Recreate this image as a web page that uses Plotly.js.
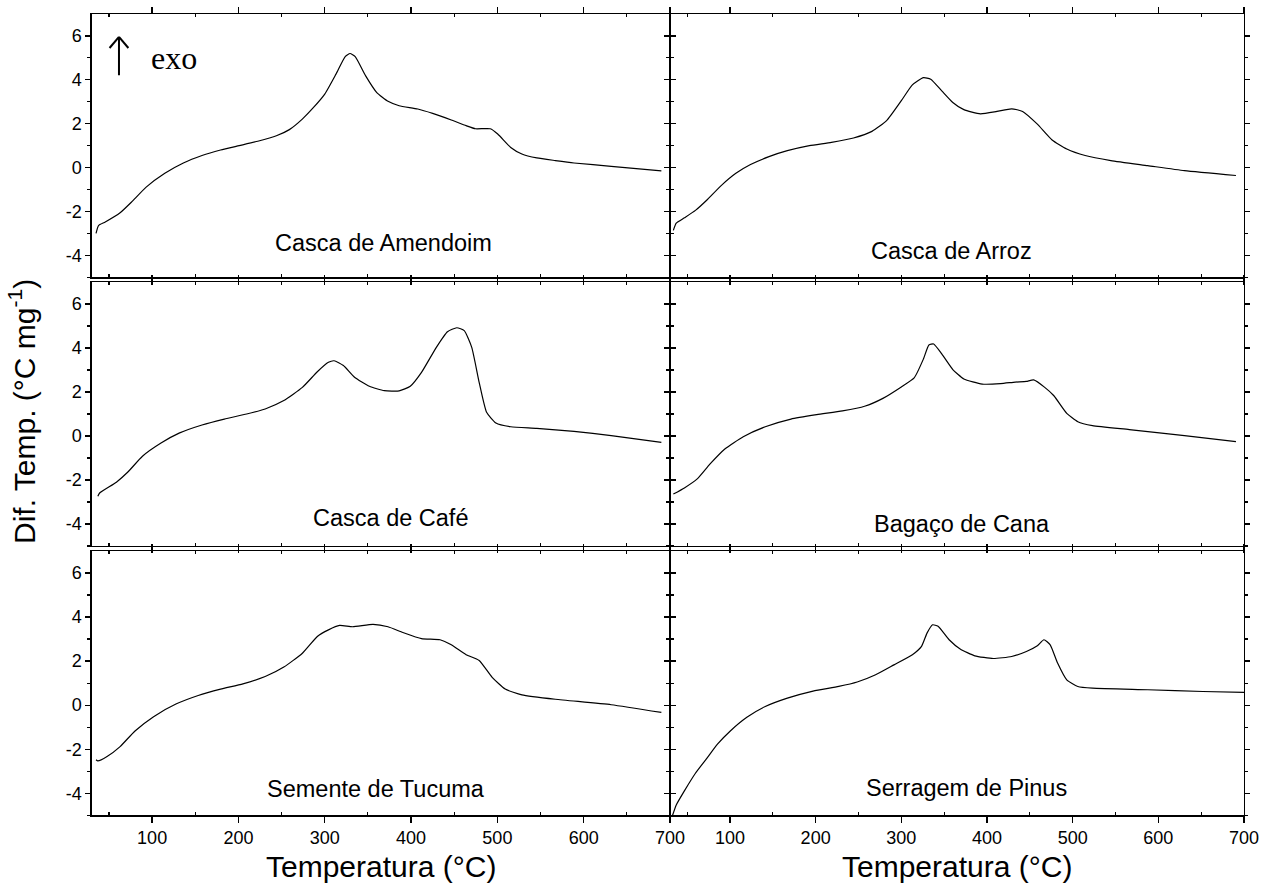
<!DOCTYPE html>
<html>
<head>
<meta charset="utf-8">
<script src="https://cdn.plot.ly/plotly-3.0.1.min.js"></script>
<style>html,body{margin:0;padding:0;background:#fff}#chart{width:1264px;height:884px}</style>
</head>
<body>
<div id="chart"></div>
<script>
// ---- data ----
var sampleNames = ["Casca de Amendoim", "Casca de Arroz", "Casca de Café", "Bagaço de Cana", "Semente de Tucuma", "Serragem de Pinus"];
var xTickVals = [100, 200, 300, 400, 500, 600, 700];
var yTickVals = [-4, -2, 0, 2, 4, 6];

var xAmendoim = [35, 37.9, 45.7, 62.9, 75.9, 93.1, 114.7, 136.2, 157.8, 179.3, 200.9, 222.4, 244, 259, 274, 287, 300, 313, 323.7, 329.3, 335.3, 347.4, 360.3, 373.3, 386.2, 407.8, 425, 446.6, 463.8, 474.6, 491.8, 500.4, 515.5, 528.4, 545.7, 567.2, 588.8, 631.9, 690];
var yAmendoim = [-3.0, -2.64, -2.48, -2.06, -1.58, -0.89, -0.26, 0.21, 0.55, 0.80, 1.0, 1.20, 1.45, 1.73, 2.21, 2.74, 3.35, 4.26, 5.06, 5.2, 5.06, 4.18, 3.42, 3.02, 2.82, 2.67, 2.47, 2.17, 1.91, 1.77, 1.77, 1.53, 0.92, 0.62, 0.44, 0.32, 0.21, 0.06, -0.15];

var xArroz = [33.9, 37.3, 46.8, 59.7, 72.5, 89.7, 106.9, 124, 145.5, 167, 192.7, 218.5, 244.2, 265.7, 282.8, 300, 312.9, 325.8, 334.3, 347.2, 360.1, 373, 392.3, 411.6, 428.8, 441.6, 458.8, 476, 493.1, 514.6, 544.6, 587.6, 630.5, 690.6];
var yArroz = [-2.86, -2.53, -2.29, -1.95, -1.5, -0.82, -0.26, 0.14, 0.5, 0.77, 1.0, 1.15, 1.35, 1.65, 2.14, 3.05, 3.77, 4.1, 4.03, 3.5, 2.97, 2.64, 2.45, 2.56, 2.68, 2.56, 1.98, 1.26, 0.85, 0.55, 0.32, 0.09, -0.14, -0.36];

var xCafe = [37.1, 39.2, 58.6, 71.6, 88.8, 110.3, 131.9, 157.8, 183.6, 209.5, 231, 252.6, 274.1, 291.4, 304.3, 310.8, 321.6, 334.5, 351.7, 369, 386.2, 399.1, 412.1, 429.3, 442.2, 453, 461.6, 470.3, 478.9, 487.5, 498.3, 515.5, 545.7, 588.8, 631.9, 690];
var yCafe = [-2.74, -2.59, -2.1, -1.65, -0.92, -0.32, 0.14, 0.5, 0.77, 1.0, 1.23, 1.61, 2.21, 2.92, 3.35, 3.42, 3.2, 2.67, 2.26, 2.06, 2.05, 2.26, 2.89, 4.03, 4.74, 4.92, 4.79, 4.03, 2.44, 1.08, 0.59, 0.42, 0.35, 0.21, 0.02, -0.29];

var xBagaco = [33.9, 46.8, 61.8, 76.8, 94, 115.5, 141.2, 171.2, 201.3, 231.3, 257.1, 278.5, 300, 315, 325.8, 332.2, 337.8, 347.2, 360.1, 373, 394.4, 415.9, 433, 445.9, 454.5, 467.4, 478.1, 493.1, 506, 523.2, 566.1, 630.5, 690.6];
var yBagaco = [-2.64, -2.36, -1.95, -1.27, -0.59, -0.03, 0.42, 0.77, 0.97, 1.14, 1.35, 1.71, 2.23, 2.64, 3.5, 4.14, 4.18, 3.73, 3.02, 2.59, 2.36, 2.38, 2.45, 2.48, 2.55, 2.21, 1.83, 1.03, 0.65, 0.47, 0.29, 0.02, -0.26];

var xTucuma = [35, 37.1, 47.8, 62.9, 80.2, 101.7, 127.6, 153.4, 179.3, 205.2, 231, 252.6, 274.1, 291.4, 304.3, 317.2, 332.3, 356, 373.3, 390.5, 412.1, 433.6, 446.6, 463.8, 478.9, 494, 509.1, 528.4, 567.2, 631.9, 690];
var yTucuma = [-2.48, -2.53, -2.33, -1.88, -1.17, -0.52, 0.05, 0.44, 0.73, 0.97, 1.3, 1.73, 2.36, 3.12, 3.42, 3.62, 3.56, 3.67, 3.56, 3.3, 3.02, 2.97, 2.74, 2.29, 2.03, 1.26, 0.73, 0.47, 0.27, 0.02, -0.33];

var xPinus = [33, 37.3, 46.8, 59.7, 72.5, 85.4, 100.4, 119.7, 141.2, 167, 197, 227, 248.5, 270, 291.4, 312.9, 323.6, 330, 336.5, 342.9, 355.8, 368.7, 385.8, 407.3, 428.8, 446, 458.8, 466.5, 473.8, 482.4, 493.1, 506, 523.2, 587.6, 652, 700];
var yPinus = [-5.0, -4.53, -3.89, -3.09, -2.44, -1.77, -1.17, -0.55, -0.06, 0.32, 0.64, 0.85, 1.05, 1.38, 1.83, 2.29, 2.67, 3.27, 3.65, 3.58, 2.97, 2.55, 2.24, 2.12, 2.21, 2.44, 2.7, 2.97, 2.74, 1.91, 1.15, 0.85, 0.77, 0.7, 0.62, 0.58];

var seriesX = [xAmendoim, xArroz, xCafe, xBagaco, xTucuma, xPinus];
var seriesY = [yAmendoim, yArroz, yCafe, yBagaco, yTucuma, yPinus];
var labelX = [368, 359, 376, 371, 359, 376];
var labelY = [-3.42, -3.79, -3.74, -4.02, -3.82, -3.77];

// ---- layout geometry ----
var W = 1264, H = 884;
var colDom = [[91.7 / W, 670 / W], [670 / W, 1244 / W]];
var rowDom = [[1 - 277.3 / H, 1 - 14 / H], [1 - 546 / H, 1 - 282 / H], [1 - 815.3 / H, 1 - 551 / H]];
var FONT = 'Liberation Sans, Arial, sans-serif';

var traces = [];
var layout = {
  width: W, height: H,
  margin: {l: 0, r: 0, t: 0, b: 0},
  paper_bgcolor: '#fff', plot_bgcolor: '#fff',
  showlegend: false,
  font: {family: FONT, color: '#000', size: 18},
  annotations: [], shapes: []
};

for (var i = 0; i < 6; i++) {
  var row = Math.floor(i / 2), col = i % 2;
  var sfx = i === 0 ? '' : String(i + 1);
  traces.push({
    x: seriesX[i], y: seriesY[i], type: 'scatter', mode: 'lines',
    line: {color: '#000', width: 1.2, shape: 'spline', smoothing: 0.5},
    xaxis: 'x' + sfx, yaxis: 'y' + sfx, hoverinfo: 'skip', cliponaxis: true
  });
  layout['xaxis' + sfx] = {
    domain: colDom[col], anchor: 'y' + sfx, range: [30, 700],
    tickvals: xTickVals, ticktext: xTickVals.map(String),
    showticklabels: row === 2, ticks: 'outside', ticklen: 6, tickwidth: 1.3, tickcolor: '#000',
    minor: {tickvals: [50, 150, 250, 350, 450, 550, 650], ticks: 'inside', ticklen: 3, tickwidth: 1.2, tickcolor: '#000'},
    showline: true, linecolor: '#000', linewidth: 1.4, mirror: 'ticks',
    showgrid: false, zeroline: false, fixedrange: true,
    tickfont: {family: FONT, size: 18, color: '#000'}
  };
  layout['yaxis' + sfx] = {
    domain: rowDom[row], anchor: 'x' + sfx, range: [-5, 7],
    tickvals: yTickVals, ticktext: yTickVals.map(String),
    showticklabels: col === 0, ticks: 'outside', ticklen: 5, tickwidth: 1.3, tickcolor: '#000',
    minor: {tickvals: [-5, -3, -1, 1, 3, 5], ticks: 'outside', ticklen: 3, tickwidth: 1.2, tickcolor: '#000'},
    showline: true, linecolor: '#000', linewidth: 1.4, mirror: 'ticks',
    showgrid: false, zeroline: false, fixedrange: true,
    tickfont: {family: FONT, size: 18, color: '#000'}
  };
  layout.annotations.push({
    text: sampleNames[i], xref: 'x' + sfx, yref: 'y' + sfx, x: labelX[i], y: labelY[i],
    showarrow: false, xanchor: 'center', yanchor: 'middle',
    font: {family: FONT, size: 23.5, color: '#000'}
  });
}

// "exo" marker with arrow in the first panel
layout.annotations.push({
  text: 'exo', xref: 'x', yref: 'y', x: 125, y: 5.0, showarrow: false,
  xanchor: 'center', yanchor: 'middle',
  font: {family: 'Liberation Serif, Times New Roman, serif', size: 32, color: '#000'}
});
layout.shapes.push(
  {type: 'line', xref: 'x', yref: 'y', x0: 61.6, y0: 4.21, x1: 61.6, y1: 5.94, line: {color: '#000', width: 2}},
  {type: 'line', xref: 'x', yref: 'y', x0: 50.7, y0: 5.45, x1: 61.6, y1: 5.96, line: {color: '#000', width: 2}},
  {type: 'line', xref: 'x', yref: 'y', x0: 72.5, y0: 5.45, x1: 61.6, y1: 5.96, line: {color: '#000', width: 2}}
);

// axis titles
var TITLE_SIZE = 30;
layout.annotations.push(
  {text: 'Temperatura (°C)', xref: 'paper', yref: 'paper', x: 381 / W, y: 1 - 866 / H,
   showarrow: false, xanchor: 'center', yanchor: 'middle', font: {family: FONT, size: TITLE_SIZE, color: '#000'}},
  {text: 'Temperatura (°C)', xref: 'paper', yref: 'paper', x: 957 / W, y: 1 - 866 / H,
   showarrow: false, xanchor: 'center', yanchor: 'middle', font: {family: FONT, size: TITLE_SIZE, color: '#000'}},
  {text: 'Dif. Temp. (°C mg<sup>-1</sup>)', xref: 'paper', yref: 'paper', x: 22 / W, y: 1 - 412 / H,
   showarrow: false, textangle: -90, xanchor: 'center', yanchor: 'middle', font: {family: FONT, size: TITLE_SIZE, color: '#000'}}
);

Plotly.newPlot('chart', traces, layout, {staticPlot: true, displayModeBar: false});
</script>
</body>
</html>
